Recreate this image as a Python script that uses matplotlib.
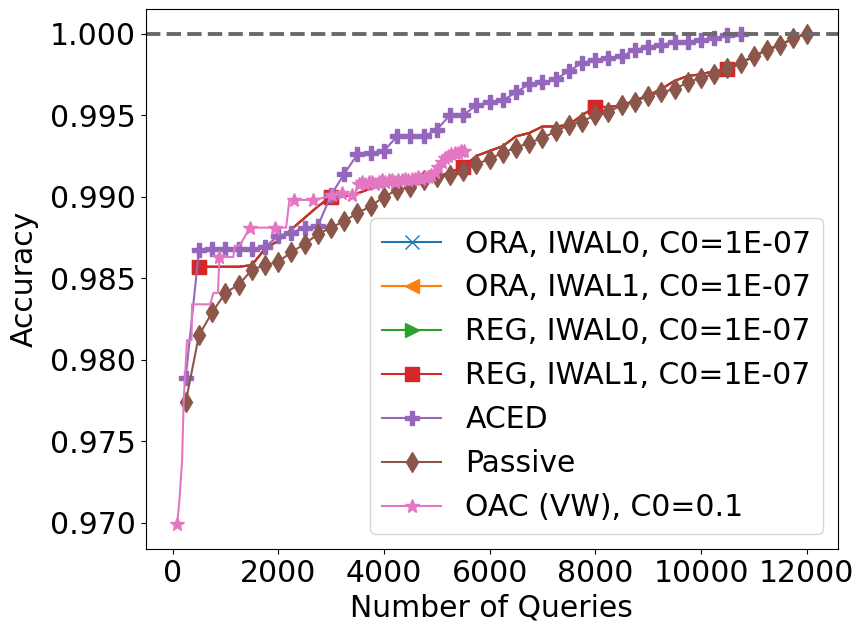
import matplotlib
matplotlib.use("Agg")
import matplotlib.pyplot as plt
import numpy as np

plt.rcParams["font.size"] = 21.5

# passive baseline, one point every 250 queries
passiveX = list(range(250, 12001, 250))
passiveY = [0.9774, 0.9815, 0.9829, 0.9841, 0.9846, 0.9855, 0.9858, 0.9860, 0.9866, 0.9871,
            0.9877, 0.9881, 0.9885, 0.9890, 0.9894, 0.9900, 0.9904, 0.9906, 0.9910, 0.9912,
            0.9913, 0.9916, 0.9920, 0.9923, 0.9927, 0.9930, 0.9933, 0.9936, 0.9940, 0.9944,
            0.9946, 0.9950, 0.9952, 0.9956, 0.9958, 0.9962, 0.9964, 0.9966, 0.9970, 0.9973,
            0.9975, 0.9979, 0.9982, 0.9986, 0.9990, 0.9993, 0.9997, 1.0000]

acedX = list(range(250, 10751, 250))
acedY = [0.9789, 0.9867, 0.9868, 0.9868, 0.9868, 0.9868, 0.9869, 0.9876, 0.9878, 0.9881,
         0.9882, 0.9901, 0.9914, 0.9926, 0.9927, 0.9928, 0.9937, 0.9937, 0.9937, 0.9941,
         0.9950, 0.9950, 0.9956, 0.9958, 0.9959, 0.9964, 0.9969, 0.9970, 0.9972, 0.9977,
         0.9982, 0.9984, 0.9985, 0.9986, 0.9990, 0.9992, 0.9993, 0.9995, 0.9995, 0.9996,
         0.9997, 0.9999, 1.0000]

iwalX = list(range(500, 12001, 250))
regIwal1Y = [0.9857, 0.9857, 0.9857, 0.9857, 0.9858, 0.9868, 0.9873, 0.9880, 0.9887, 0.9894,
             0.9900, 0.9900, 0.9902, 0.9905, 0.9907, 0.9908, 0.9909, 0.9910, 0.9912, 0.9915,
             0.9918, 0.9925, 0.9928, 0.9931, 0.9937, 0.9939, 0.9943, 0.9943, 0.9944, 0.9950,
             0.9955, 0.9955, 0.9956, 0.9959, 0.9962, 0.9966, 0.9971, 0.9974, 0.9975, 0.9977,
             0.9978, 0.9982, 0.9986, 0.9990, 0.9993, 0.9997, 1.0000]
# the other three IWAL runs sit exactly under the REG/IWAL1 curve
oraIwal0Y = list(regIwal1Y)
oraIwal1Y = list(regIwal1Y)
regIwal0Y = list(regIwal1Y)

oacX = [88, 131, 181, 212, 275, 360, 369, 712, 775, 860,
        887, 1150, 1181, 1275, 1462, 1931, 2150, 2212, 2306, 2650,
        2963, 3025, 3212, 3400, 3463,
        3525, 3590, 3650, 3710, 3775, 3840, 3900, 3960, 4025, 4090, 4150,
        4210, 4275, 4340, 4400, 4460, 4525, 4590, 4650, 4710, 4775, 4840,
        4900, 4960, 5025, 5090, 5150, 5210, 5275, 5340, 5400, 5460, 5525]
oacY = [0.9699, 0.9714, 0.9738, 0.9775, 0.9812, 0.9812, 0.9834, 0.9834, 0.9841, 0.9841,
        0.9863, 0.9863, 0.9870, 0.9870, 0.9881, 0.9881, 0.9881, 0.9898, 0.9898, 0.9898,
        0.9900, 0.9901, 0.9902, 0.9901, 0.9902,
        0.9908, 0.9909, 0.9908, 0.9909, 0.9909, 0.9908, 0.9909, 0.9910, 0.9909, 0.9910, 0.9910,
        0.9909, 0.9910, 0.9910, 0.9911, 0.9910, 0.9911, 0.9911, 0.9912, 0.9911, 0.9912, 0.9912,
        0.9913, 0.9915, 0.9918, 0.9921, 0.9924, 0.9925, 0.9926, 0.9927, 0.9927, 0.9928, 0.9928]
oacMarkers = [0, 10, 14, 15, 18, 19, 21, 22, 23] + list(range(25, len(oacX)))

fig = plt.figure(figsize=(8.57, 6.26), dpi=100)
ax = fig.add_axes([0.170, 0.123, 0.808, 0.8626])

ax.plot(iwalX, oraIwal0Y, marker="x", markersize=10, markevery=10, color="C0", label="ORA, IWAL0, C0=1E-07")
ax.plot(iwalX, oraIwal1Y, marker="<", markersize=10, markevery=10, color="C1", label="ORA, IWAL1, C0=1E-07")
ax.plot(iwalX, regIwal0Y, marker=">", markersize=10, markevery=10, color="C2", label="REG, IWAL0, C0=1E-07")
ax.plot(iwalX, regIwal1Y, marker="s", markersize=10, markevery=10, color="C3", label="REG, IWAL1, C0=1E-07")
ax.plot(acedX, acedY, marker="P", markersize=10, color="C4", label="ACED")
ax.plot(passiveX, passiveY, marker="d", markersize=10, color="C5", label="Passive")
ax.plot(oacX, oacY, marker="*", markersize=10, markevery=oacMarkers, color="C6", label="OAC (VW), C0=0.1")
ax.axhline(1.0, color="dimgray", linestyle="--", linewidth=2.8)

ax.set_xticks(np.arange(0, 12001, 2000))
ax.set_yticks(np.arange(0.970, 1.0001, 0.005))
ax.set_xlabel("Number of Queries")
ax.set_ylabel("Accuracy", labelpad=8)
ax.legend(loc="lower right")

fig.savefig("out.png", dpi=100)
